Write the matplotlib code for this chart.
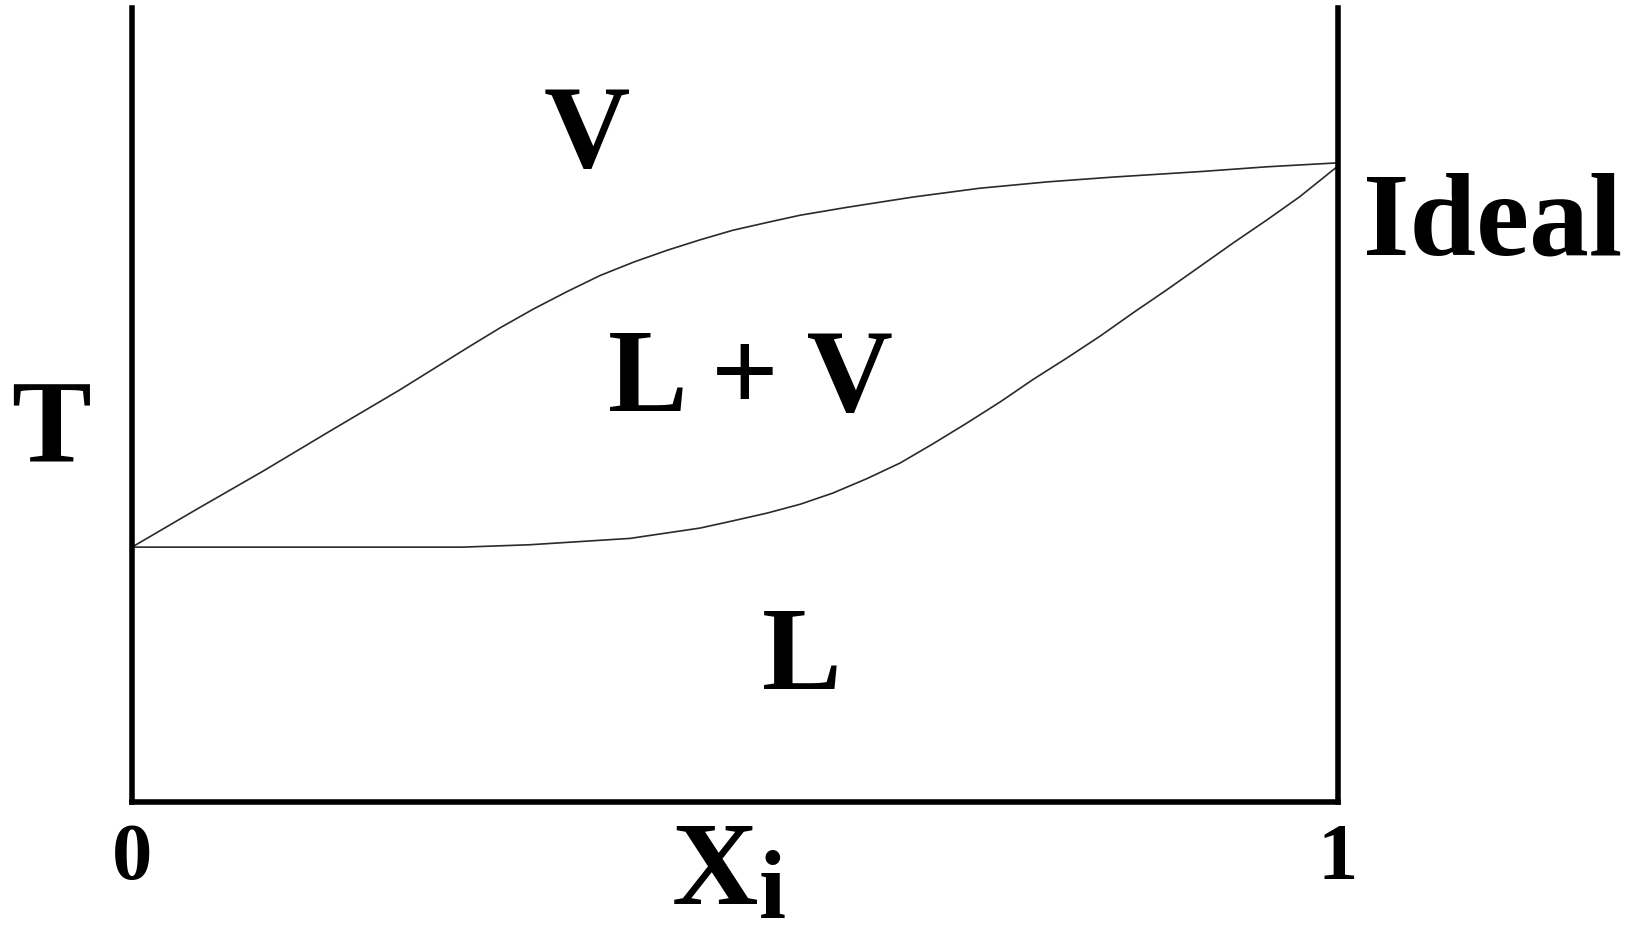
import os
import matplotlib
matplotlib.use("Agg")
import matplotlib.pyplot as plt
from matplotlib import font_manager as fm

# curva de vapor (orvalho) e de liquido (bolha)
x_vap = [0.0, 0.054, 0.109, 0.164, 0.222, 0.278, 0.305, 0.333, 0.361, 0.388,
         0.416, 0.444, 0.471, 0.498, 0.527, 0.554, 0.593, 0.648, 0.703, 0.759,
         0.813, 0.886, 0.941, 1.0]
T_vap = [0.321, 0.369, 0.417, 0.467, 0.519, 0.572, 0.597, 0.621, 0.643, 0.663,
         0.680, 0.695, 0.708, 0.720, 0.730, 0.739, 0.749, 0.762, 0.773, 0.781,
         0.787, 0.794, 0.800, 0.805]

x_liq = [0.0, 0.139, 0.274, 0.330, 0.413, 0.471, 0.498, 0.527, 0.554, 0.581,
         0.609, 0.637, 0.664, 0.692, 0.720, 0.747, 0.775, 0.803, 0.830, 0.858,
         0.886, 0.913, 0.941, 0.968, 1.0]
T_liq = [0.321, 0.321, 0.321, 0.324, 0.332, 0.345, 0.354, 0.364, 0.375, 0.389,
         0.407, 0.427, 0.451, 0.477, 0.504, 0.532, 0.559, 0.587, 0.616, 0.645,
         0.675, 0.704, 0.733, 0.762, 0.801]

x_ticks = [0, 1]
x_ticklabels = ["0", "1"]

# fonte tipo Times (Liberation Serif Bold), pelo arquivo
serif = "/usr/share/fonts/truetype/liberation/LiberationSerif-Bold.ttf"
if not os.path.exists(serif):
    serif = fm.findfont("Liberation Serif:bold")

def fonte(size):
    return fm.FontProperties(fname=serif, size=size)

fig = plt.figure(figsize=(16.34, 9.39), dpi=100)
ax = fig.add_axes([132 / 1634, 137 / 939, 1206 / 1634, 794 / 939])

ax.plot(x_vap, T_vap, color="#2a2a2a", lw=1.2)
ax.plot(x_liq, T_liq, color="#2a2a2a", lw=1.2)

ax.set_xlim(0, 1)
ax.set_ylim(0, 1)
ax.spines["top"].set_visible(False)
for s in ["left", "right", "bottom"]:
    ax.spines[s].set_linewidth(4)
    ax.spines[s].set_capstyle("projecting")
ax.set_xticks([])
ax.set_yticks([])

big = 86
kw = dict(fontproperties=fonte(big), va="baseline", clip_on=False)
ax.text(0.377, 0.800, "V", ha="center", **kw)
ax.text(0.513, 0.492, "L + V", ha="center", **kw)
ax.text(0.555, 0.142, "L", ha="center", **kw)
ax.text(-0.067, 0.428, "T", ha="center", **kw)
ax.text(1.021, 0.689, "Ideal", ha="left", **kw)

for xt, lab in zip(x_ticks, x_ticklabels):
    ax.text(xt, -0.097, lab, ha="center", fontproperties=fonte(58),
            va="baseline", clip_on=False)

ax.text(0.483, -0.128, "X", ha="center", **kw)
ax.text(0.520, -0.146, "i", ha="left", fontproperties=fonte(70),
        va="baseline", clip_on=False)

fig.savefig("out.png", dpi=100)
